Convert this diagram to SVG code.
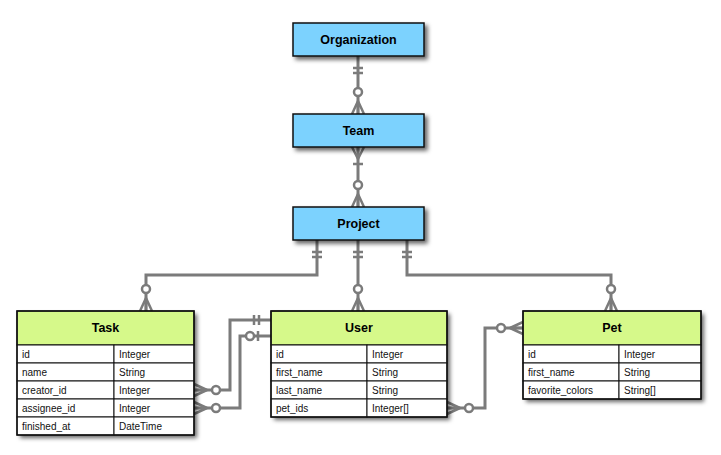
<svg xmlns="http://www.w3.org/2000/svg" width="721" height="455" viewBox="0 0 721 455">
<style>
  .ent{fill:#7bd2fe;stroke:#111;stroke-width:1.5}
  .hdr{fill:#d6f98a;stroke:#111;stroke-width:1.2}
  .row{fill:#fff;stroke:#111;stroke-width:1}
  .title{font-family:"Liberation Sans",Arial,sans-serif;font-size:12.5px;font-weight:bold;fill:#000;text-anchor:middle}
  .cell{font-family:"Liberation Sans",Arial,sans-serif;font-size:10px;fill:#111}
  .conn{fill:none;stroke:#7b7b7b;stroke-width:3}
  .mk{fill:none;stroke:#7b7b7b;stroke-width:2.5}
  .mkc{fill:#fff;stroke:#7b7b7b;stroke-width:2.5}
</style>
<defs>
  <filter id="sh" x="-10%" y="-10%" width="130%" height="140%">
    <feDropShadow dx="3" dy="3" stdDeviation="2" flood-color="#000" flood-opacity="0.6"/>
  </filter>
  <marker id="zeroMany" markerUnits="userSpaceOnUse" viewBox="-30 -10 40 20" markerWidth="40" markerHeight="20" refX="0" refY="0" orient="auto-start-reverse" overflow="visible">
    <path class="mk" d="M-13,0 L0,-6 M-13,0 L0,0 M-13,0 L0,6"/>
    <circle class="mkc" cx="-22" cy="0" r="4"/>
  </marker>
  <marker id="oneOnly" markerUnits="userSpaceOnUse" viewBox="-30 -10 40 20" markerWidth="40" markerHeight="20" refX="0" refY="0" orient="auto-start-reverse" overflow="visible">
    <path class="mk" d="M-12,-5 V5 M-17,-5 V5"/>
  </marker>
  <marker id="oneMany" markerUnits="userSpaceOnUse" viewBox="-30 -10 40 20" markerWidth="40" markerHeight="20" refX="0" refY="0" orient="auto-start-reverse" overflow="visible">
    <path class="mk" d="M-12,0 L0,-6 M-12,0 L0,0 M-12,0 L0,6 M-17,-5 V5"/>
  </marker>
  <marker id="zeroOne" markerUnits="userSpaceOnUse" viewBox="-30 -10 40 20" markerWidth="40" markerHeight="20" refX="0" refY="0" orient="auto-start-reverse" overflow="visible">
    <path class="mk" d="M-13,-5 V5"/>
    <circle class="mkc" cx="-21" cy="0" r="4"/>
  </marker>
</defs>

<g id="connectors">
  <path class="conn" d="M358,56 V114" marker-start="url(#oneOnly)" marker-end="url(#zeroMany)"/>
  <path class="conn" d="M358,147 V207" marker-start="url(#oneMany)" marker-end="url(#zeroMany)"/>
  <path class="conn" d="M317,240 V275 H146 V311" marker-start="url(#oneOnly)" marker-end="url(#zeroMany)"/>
  <path class="conn" d="M358,240 V311" marker-start="url(#oneOnly)" marker-end="url(#zeroMany)"/>
  <path class="conn" d="M407,240 V275 H611 V311" marker-start="url(#oneOnly)" marker-end="url(#zeroMany)"/>
  <path class="conn" d="M194,390 H230 V320 H271" marker-start="url(#zeroMany)" marker-end="url(#oneOnly)"/>
  <path class="conn" d="M194,408 H240 V336 H271" marker-start="url(#zeroMany)" marker-end="url(#zeroOne)"/>
  <path class="conn" d="M447,408 H485 V328 H523" marker-start="url(#zeroMany)" marker-end="url(#zeroMany)"/>
</g>

<g id="organization">
  <rect class="ent" x="293" y="23" width="131" height="33" filter="url(#sh)"/>
  <text class="title" x="358.5" y="44">Organization</text>
</g>
<g id="team">
  <rect class="ent" x="293" y="114" width="131" height="33" filter="url(#sh)"/>
  <text class="title" x="358.5" y="135">Team</text>
</g>
<g id="project">
  <rect class="ent" x="293" y="207" width="131" height="33" filter="url(#sh)"/>
  <text class="title" x="358.5" y="228">Project</text>
</g>

<g id="task">
  <rect x="17" y="311" width="177" height="124" fill="#fff" filter="url(#sh)"/>
  <rect class="hdr" x="17" y="311" width="177" height="34"/>
  <text class="title" x="105.5" y="332">Task</text>
  <rect class="row" x="17" y="345" width="97" height="18"/><rect class="row" x="114" y="345" width="80" height="18"/>
  <rect class="row" x="17" y="363" width="97" height="18"/><rect class="row" x="114" y="363" width="80" height="18"/>
  <rect class="row" x="17" y="381" width="97" height="18"/><rect class="row" x="114" y="381" width="80" height="18"/>
  <rect class="row" x="17" y="399" width="97" height="18"/><rect class="row" x="114" y="399" width="80" height="18"/>
  <rect class="row" x="17" y="417" width="97" height="18"/><rect class="row" x="114" y="417" width="80" height="18"/>
  <rect x="17" y="311" width="177" height="124" fill="none" stroke="#111" stroke-width="1.5"/>
  <text class="cell" x="22" y="358">id</text><text class="cell" x="119" y="358">Integer</text>
  <text class="cell" x="22" y="376">name</text><text class="cell" x="119" y="376">String</text>
  <text class="cell" x="22" y="394">creator_id</text><text class="cell" x="119" y="394">Integer</text>
  <text class="cell" x="22" y="412">assignee_id</text><text class="cell" x="119" y="412">Integer</text>
  <text class="cell" x="22" y="430">finished_at</text><text class="cell" x="119" y="430">DateTime</text>
</g>

<g id="user">
  <rect x="271" y="311" width="176" height="106" fill="#fff" filter="url(#sh)"/>
  <rect class="hdr" x="271" y="311" width="176" height="34"/>
  <text class="title" x="359" y="332">User</text>
  <rect class="row" x="271" y="345" width="96" height="18"/><rect class="row" x="367" y="345" width="80" height="18"/>
  <rect class="row" x="271" y="363" width="96" height="18"/><rect class="row" x="367" y="363" width="80" height="18"/>
  <rect class="row" x="271" y="381" width="96" height="18"/><rect class="row" x="367" y="381" width="80" height="18"/>
  <rect class="row" x="271" y="399" width="96" height="18"/><rect class="row" x="367" y="399" width="80" height="18"/>
  <rect x="271" y="311" width="176" height="106" fill="none" stroke="#111" stroke-width="1.5"/>
  <text class="cell" x="276" y="358">id</text><text class="cell" x="372" y="358">Integer</text>
  <text class="cell" x="276" y="376">first_name</text><text class="cell" x="372" y="376">String</text>
  <text class="cell" x="276" y="394">last_name</text><text class="cell" x="372" y="394">String</text>
  <text class="cell" x="276" y="412">pet_ids</text><text class="cell" x="372" y="412">Integer[]</text>
</g>

<g id="pet">
  <rect x="523" y="311" width="178" height="88" fill="#fff" filter="url(#sh)"/>
  <rect class="hdr" x="523" y="311" width="178" height="34"/>
  <text class="title" x="612" y="332">Pet</text>
  <rect class="row" x="523" y="345" width="96" height="18"/><rect class="row" x="619" y="345" width="82" height="18"/>
  <rect class="row" x="523" y="363" width="96" height="18"/><rect class="row" x="619" y="363" width="82" height="18"/>
  <rect class="row" x="523" y="381" width="96" height="18"/><rect class="row" x="619" y="381" width="82" height="18"/>
  <rect x="523" y="311" width="178" height="88" fill="none" stroke="#111" stroke-width="1.5"/>
  <text class="cell" x="528" y="358">id</text><text class="cell" x="624" y="358">Integer</text>
  <text class="cell" x="528" y="376">first_name</text><text class="cell" x="624" y="376">String</text>
  <text class="cell" x="528" y="394">favorite_colors</text><text class="cell" x="624" y="394">String[]</text>
</g>
</svg>
